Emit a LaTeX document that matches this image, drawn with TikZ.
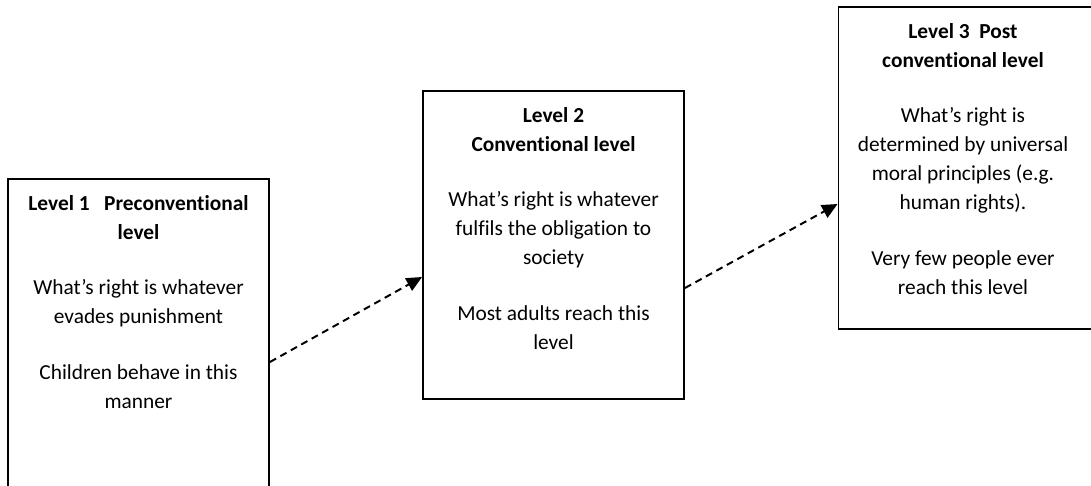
\documentclass[tikz,border=0pt]{standalone}
\usepackage{fontspec}
\setmainfont{Carlito}[Ligatures=CommonOff]
\usetikzlibrary{arrows.meta}

\begin{document}
\begin{tikzpicture}[x=0.025cm,y=-0.025cm,
  levelbox/.style={draw,line width=1.3pt,minimum width=6.525cm,inner sep=0pt},
  leveltext/.style={anchor=north,inner sep=0pt,align=center,
    font=\fontsize{15.2pt}{20.6pt}\selectfont},
  arrowline/.style={line width=1.4pt,dash pattern=on 5pt off 3.5pt,
    -{Triangle[length=11pt,width=10pt]}}]
	% Page size of the reference
	\useasboundingbox (0,0) rectangle (1091,486);
	\clip (0,0) rectangle (1091,486);

	% Draw the three level boxes
	\node[levelbox,minimum height=8cm] (box1) at (138.5,339) {};
	\node[levelbox,minimum height=7.7cm] (box2) at (553.5,245) {};
	\node[levelbox,minimum height=8.05cm] (box3) at (969,168) {};

	% Write the text in each box
	\node[leveltext] (t1) at ([yshift=-0.42cm]box1.north)
		{\textbf{Level 1\ \ \ Preconventional}\\ \textbf{level}\\[19pt]
		What’s right is whatever\\ evades punishment\\[19pt]
		Children behave in this\\ manner};
	\node[leveltext] (t2) at ([yshift=-0.42cm]box2.north)
		{\textbf{Level 2}\\ \textbf{Conventional level}\\[19pt]
		What’s right is whatever\\ fulfils the obligation to\\ society\\[19pt]
		Most adults reach this\\ level};
	\node[leveltext] (t3) at ([xshift=-0.15cm,yshift=-0.42cm]box3.north)
		{\textbf{Level 3\ \ Post}\\ \textbf{conventional level}\\[19pt]
		What’s right is\\ determined by universal\\ moral principles (e.g.\\ human rights).\\[19pt]
		Very few people ever\\ reach this level};

	% Dashed arrows from level to level
	\draw[arrowline] ([yshift=-0.575cm]box1.east) -- ([yshift=-0.8cm]box2.west);
	\draw[arrowline] ([yshift=-1.075cm]box2.east) -- ([yshift=-0.9cm]box3.west);
\end{tikzpicture}
\end{document}
